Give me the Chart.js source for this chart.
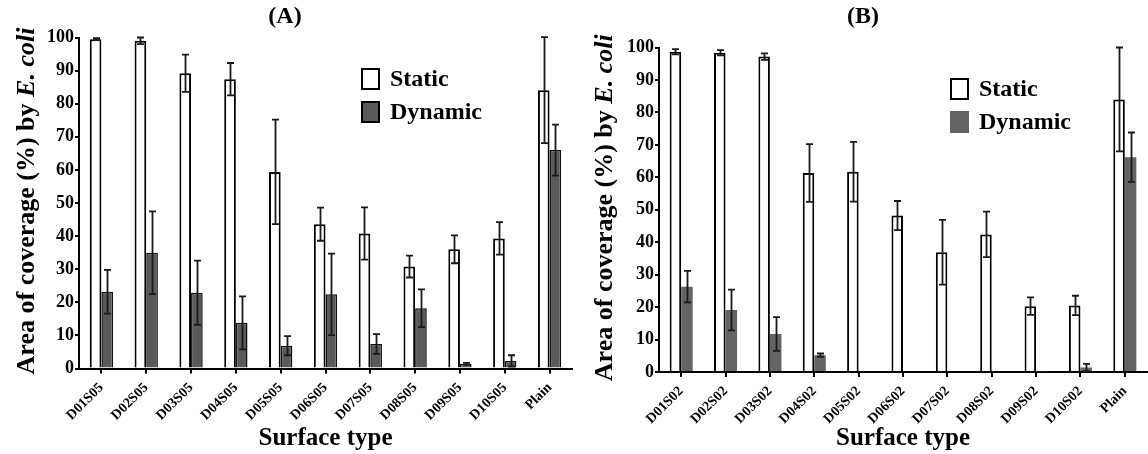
<!DOCTYPE html>
<html>
<head>
<meta charset="utf-8">
<script src="https://cdn.jsdelivr.net/npm/chart.js@4"></script>
<style>
  body { margin: 0; background: #fff; }
  #wrap { display: flex; width: 1148px; height: 454px; }
  canvas { display: block; }
</style>
</head>
<body>
<div id="wrap">
  <canvas id="chartA" width="574" height="454"></canvas>
  <canvas id="chartB" width="574" height="454"></canvas>
</div>
<script>
// Panel (A) - S05 surfaces
const categoriesA = ["D01S05", "D02S05", "D03S05", "D04S05", "D05S05", "D06S05", "D07S05", "D08S05", "D09S05", "D10S05", "Plain"];
const staticA = [99.5, 99.0, 89.2, 87.4, 59.4, 43.6, 40.8, 30.8, 36.0, 39.3, 84.1];
const staticErrA = [0.3, 1.0, 5.6, 4.9, 15.8, 5.0, 7.9, 3.3, 4.2, 4.9, 16.0];
const dynamicA = [23.2, 35.0, 22.9, 13.8, 6.9, 22.4, 7.4, 18.2, 1.4, 2.3, 66.0];
const dynamicErrA = [6.6, 12.5, 9.7, 8.0, 2.9, 12.3, 3.0, 5.7, 0.3, 1.7, 7.7];

// Panel (B) - S02 surfaces
const categoriesB = ["D01S02", "D02S02", "D03S02", "D04S02", "D05S02", "D06S02", "D07S02", "D08S02", "D09S02", "D10S02", "Plain"];
const staticB = [98.7, 98.4, 97.2, 61.3, 61.7, 48.2, 36.9, 42.4, 20.3, 20.5, 84.0];
const staticErrB = [0.8, 0.8, 1.0, 8.9, 9.2, 4.5, 10.0, 7.0, 2.7, 3.0, 16.0];
const dynamicB = [26.3, 19.1, 11.7, 5.2, 0, 0, 0, 0, 0.2, 1.4, 66.2];
const dynamicErrB = [4.85, 6.3, 5.2, 0.5, 0, 0, 0, 0, 0, 1.1, 7.6];

const seriesNames = ["Static", "Dynamic"];

const SERIF = '"Liberation Serif", "Times New Roman", serif';

// error bars, title, legend and y label (mixed italic)
const decorPlugin = {
  id: "decor",
  afterDatasetsDraw(chart, args, opts) {
    const ctx = chart.ctx;
    const yScale = chart.scales.y;
    ctx.save();
    ctx.strokeStyle = "#1a1a1a";
    ctx.lineWidth = 1.8;
    chart.data.datasets.forEach((ds, di) => {
      const meta = chart.getDatasetMeta(di);
      meta.data.forEach((bar, i) => {
        const e = ds.errors[i];
        if (!e) return;
        const v = ds.data[i];
        const x = Math.round(bar.x) + 0.5;
        const yt = yScale.getPixelForValue(v + e);
        const yb = yScale.getPixelForValue(v - e);
        ctx.beginPath();
        ctx.moveTo(x, yt); ctx.lineTo(x, yb);
        ctx.moveTo(x - 3.5, yt); ctx.lineTo(x + 3.5, yt);
        ctx.moveTo(x - 3.5, yb); ctx.lineTo(x + 3.5, yb);
        ctx.stroke();
      });
    });
    ctx.restore();
  },
  afterDraw(chart, args, opts) {
    const ctx = chart.ctx;
    const area = chart.chartArea;
    ctx.save();
    ctx.fillStyle = "#000";
    // panel title
    ctx.font = "bold 24px " + SERIF;
    ctx.textAlign = "center";
    ctx.textBaseline = "middle";
    ctx.fillText(opts.title, opts.titleX, 17);

    // legend
    const ds = chart.data.datasets;
    ctx.font = "bold 24px " + SERIF;
    ctx.textAlign = "left";
    ds.forEach((d, i) => {
      const cy = opts.legendY + i * 33;
      ctx.fillStyle = d.backgroundColor;
      ctx.fillRect(opts.legendX, cy - 11, 19, 22);
      if (d.borderWidth > 0) {
        ctx.strokeStyle = "#000";
        ctx.lineWidth = 2;
        ctx.strokeRect(opts.legendX + 1, cy - 10, 17, 20);
      }
      ctx.fillStyle = "#000";
      ctx.fillText(d.label, opts.legendX + 29, cy + 1);
    });

    // y axis title with italic species name
    const partA = "Area of coverage (%) by ";
    const partB = "E. coli";
    ctx.font = "bold 26px " + SERIF;
    const wA = ctx.measureText(partA).width;
    ctx.font = "italic bold 26px " + SERIF;
    const wB = ctx.measureText(partB).width;
    const cy = (area.top + area.bottom) / 2 - 2;
    ctx.translate(opts.yLabelX, cy);
    ctx.rotate(-Math.PI / 2);
    ctx.textBaseline = "middle";
    ctx.textAlign = "left";
    const start = -(wA + wB) / 2;
    ctx.font = "bold 26px " + SERIF;
    ctx.fillText(partA, start, 0);
    ctx.font = "italic bold 26px " + SERIF;
    ctx.fillText(partB, start + wA, 0);
    ctx.restore();
  }
};

function makeChart(id, cats, sVals, sErr, dVals, dErr, cfg) {
  return new Chart(document.getElementById(id), {
    type: "bar",
    data: {
      labels: cats,
      datasets: [
        {
          label: seriesNames[0],
          data: sVals,
          errors: sErr,
          backgroundColor: "#ffffff",
          borderColor: "#000000",
          borderWidth: 2,
          categoryPercentage: 0.52,
          barPercentage: 1.0,
        },
        {
          label: seriesNames[1],
          data: dVals,
          errors: dErr,
          backgroundColor: cfg.dynColor,
          borderColor: "#111111",
          borderWidth: cfg.dynBorder,
          categoryPercentage: 0.52,
          barPercentage: 1.0,
        },
      ],
    },
    options: {
      responsive: false,
      animation: false,
      layout: { padding: { left: 0, right: cfg.padRight, top: cfg.padTop, bottom: 0 } },
      plugins: {
        legend: { display: false },
        tooltip: { enabled: false },
        decor: cfg.decor,
      },
      scales: {
        x: {
          offset: true,
          grid: { drawOnChartArea: false, drawTicks: true, tickLength: 5, offset: false, color: "#000", lineWidth: 2 },
          border: { display: true, color: "#000", width: 2 },
          ticks: {
            autoSkip: false, minRotation: 45, maxRotation: 45, padding: 6, color: "#000",
            font: { family: SERIF, weight: "bold", size: 14 },
          },
          title: {
            display: true, text: "Surface type", color: "#000",
            font: { family: SERIF, weight: "bold", size: 25 },
            padding: { top: 0, bottom: 0 },
          },
          afterFit(s) { s.height = cfg.xHeight; },
        },
        y: {
          min: 0, max: 100,
          grid: { drawOnChartArea: false, drawTicks: true, tickLength: 4, color: "#000", lineWidth: 2 },
          border: { display: true, color: "#000", width: 2 },
          ticks: {
            stepSize: 10, padding: 1, color: "#000",
            font: { family: SERIF, weight: "bold", size: 18 },
          },
          afterFit(s) { s.width = cfg.yWidth; },
        },
      },
    },
    plugins: [decorPlugin],
  });
}

makeChart("chartA", categoriesA, staticA, staticErrA, dynamicA, dynamicErrA, {
  dynColor: "#5a5a5a", dynBorder: 1.5,
  padTop: 37.5, padRight: 2, xHeight: 85.5, yWidth: 79,
  decor: { title: "(A)", titleX: 285, legendX: 361, legendY: 79, yLabelX: 27 },
});

makeChart("chartB", categoriesB, staticB, staticErrB, dynamicB, dynamicErrB, {
  dynColor: "#646464", dynBorder: 0,
  padTop: 47.5, padRight: 1, xHeight: 82, yWidth: 85,
  decor: { title: "(B)", titleX: 289, legendX: 376, legendY: 89, yLabelX: 31 },
});
</script>
</body>
</html>
